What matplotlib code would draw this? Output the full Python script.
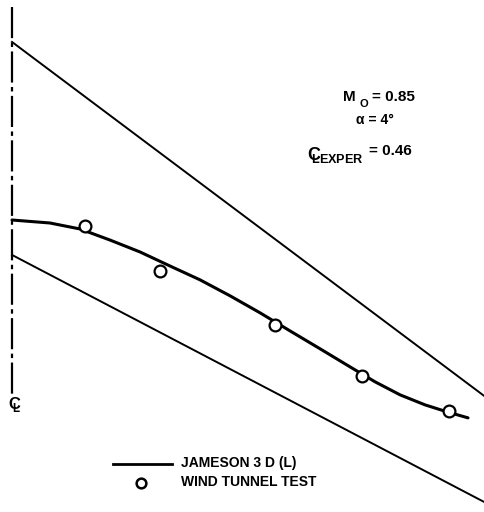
import matplotlib
matplotlib.use("Agg")
import matplotlib.pyplot as plt

# Planform (spanwise station eta, chordwise station x/c_root)
planform_eta = [0.0, 1.022]
leading_edge = [0.0, 1.662]
trailing_edge = [1.0, 2.160]
centerline_eta = [0.0, 0.0]
centerline_x = [-0.164, 1.657]

# Shock location, Jameson 3D (L)
eta_calc = [0.0, 0.082, 0.147, 0.212, 0.277, 0.342, 0.407, 0.472, 0.537,
            0.602, 0.667, 0.732, 0.786, 0.840, 0.894, 0.942, 0.987]
x_calc = [0.836, 0.850, 0.878, 0.930, 0.986, 1.052, 1.117, 1.192, 1.272,
          1.357, 1.441, 1.526, 1.596, 1.657, 1.704, 1.737, 1.765]

# Wind tunnel test
eta_test = [0.158, 0.320, 0.569, 0.758, 0.946]
x_test = [0.864, 1.075, 1.329, 1.568, 1.732]

plt.rcParams['font.family'] = ['Liberation Sans', 'DejaVu Sans']
plt.rcParams['mathtext.fontset'] = 'custom'
plt.rcParams['mathtext.rm'] = 'Liberation Sans:bold'
plt.rcParams['mathtext.bf'] = 'Liberation Sans:bold'

fig = plt.figure(figsize=(4.84, 5.12), dpi=100)
ax = fig.add_axes([0, 0, 1, 1])
ax.set_xlim(-0.026, 1.0216)
ax.set_ylim(2.207, -0.197)
ax.axis('off')

ax.plot(planform_eta, leading_edge, color='black', lw=1.4)
ax.plot(planform_eta, trailing_edge, color='black', lw=1.4)
ax.plot(centerline_eta, centerline_x, color='black', lw=1.6,
        linestyle=(0, (14, 2, 2, 2)))

ax.plot(eta_calc, x_calc, color='black', lw=2.2, solid_capstyle='round')
ax.plot(eta_test, x_test, linestyle='none', marker='o', ms=8.5,
        mfc='white', mec='black', mew=1.6)

# centerline symbol
ax.text(8 / 484, 1 - 405 / 512, r"$\mathrm{C}\!\!\!_\mathrm{L}$",
        transform=ax.transAxes, fontsize=12, va='center', ha='left')

# flight condition
ax.text(343 / 484, 1 - 97 / 512, "M", transform=ax.transAxes, fontsize=11,
        fontweight='bold', va='center', ha='left')
ax.text(359 / 484, 1 - 104 / 512, "O", transform=ax.transAxes, fontsize=8,
        fontweight='bold', va='center', ha='left')
ax.text(372 / 484, 1 - 97 / 512, "= 0.85", transform=ax.transAxes,
        fontsize=11, fontweight='bold', va='center', ha='left')
ax.text(356 / 484, 1 - 120 / 512, "α = 4°", transform=ax.transAxes,
        fontsize=10, fontweight='bold', va='center', ha='left')
ax.text(307 / 484, 1 - 155 / 512, r"$\mathrm{C}\!\!\!_\mathrm{LEXPER}$",
        transform=ax.transAxes, fontsize=13, va='center', ha='left')
ax.text(369 / 484, 1 - 151 / 512, "= 0.46", transform=ax.transAxes,
        fontsize=11, fontweight='bold', va='center', ha='left')

# legend
ax.plot([113 / 484, 172 / 484], [1 - 464 / 512, 1 - 464 / 512],
        transform=ax.transAxes, color='black', lw=2.0)
ax.plot([141 / 484], [1 - 483 / 512], transform=ax.transAxes,
        linestyle='none', marker='o', ms=7, mfc='white', mec='black', mew=1.8)
ax.text(181 / 484, 1 - 463 / 512, "JAMESON 3 D (L)", transform=ax.transAxes,
        fontsize=10, fontweight='bold', va='center', ha='left')
ax.text(181 / 484, 1 - 482 / 512, "WIND TUNNEL TEST", transform=ax.transAxes,
        fontsize=10, fontweight='bold', va='center', ha='left')

fig.savefig("out.png", dpi=100)
